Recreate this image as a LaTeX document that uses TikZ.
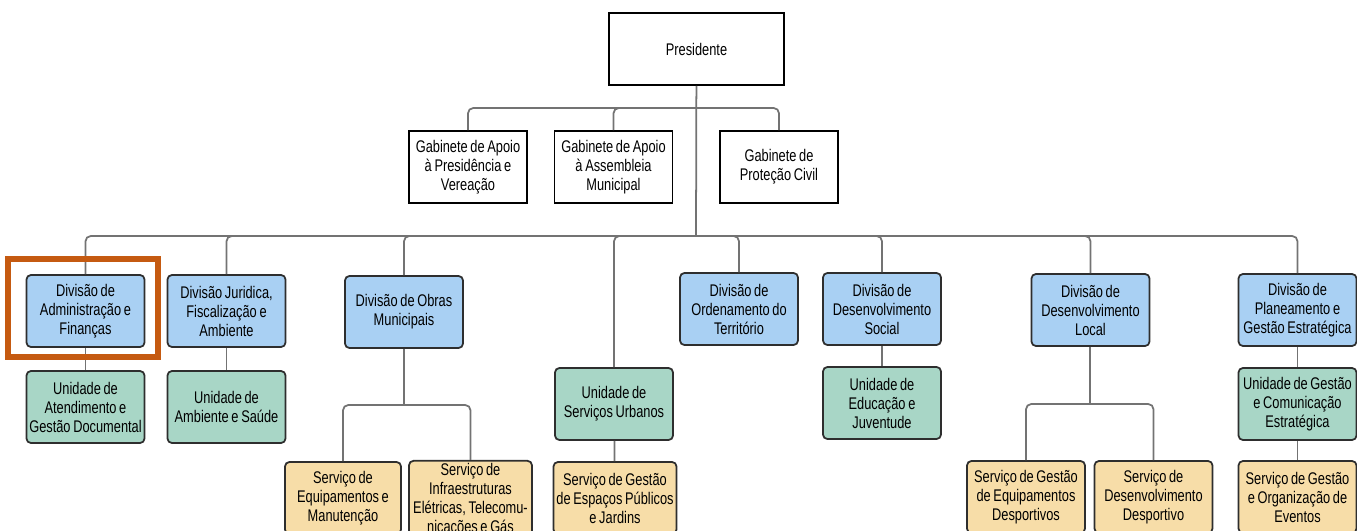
\documentclass[tikz,border=0pt]{standalone}
\usepackage{fontspec}
\newfontfamily\orgfont{Liberation Sans}[FakeStretch=0.76,WordSpace=0.75]
\definecolor{divblue}{HTML}{A9D0F3}
\definecolor{unigreen}{HTML}{A8D6C6}
\definecolor{servyellow}{HTML}{F7DDA8}
\definecolor{hilite}{HTML}{C55A11}
\definecolor{linegray}{HTML}{737373}
\definecolor{boxedge}{HTML}{2E2E2E}

\begin{document}
\begin{tikzpicture}[x=0.02cm,y=-0.02cm,
  box/.style={rectangle,draw=boxedge,line width=1pt,rounded corners=2.5pt,
    inner sep=0.05cm,minimum width=2.36cm,minimum height=1.44cm,
    align=center,font=\orgfont\fontsize{9.6}{10.8}\selectfont},
  top/.style={box,fill=white,draw=black,sharp corners},
  div/.style={box,fill=divblue},
  uni/.style={box,fill=unigreen},
  serv/.style={box,fill=servyellow},
  link/.style={draw=linegray,line width=1pt,rounded corners=3pt}]
\useasboundingbox (0,0) rectangle (1357,531);
\clip (0,0) rectangle (1357,531);
\coordinate (busTop) at (696,108);
\coordinate (busMain) at (696,236);
\coordinate (obrasBus) at (404,405);
\coordinate (localBus) at (1090,404);

% top of the chart
\path
(696.5,49) node [top,minimum width=3.5cm] (pres) {Presidente}
(468,167) node [top] (gab1) {Gabinete de Apoio\\à Presidência e\\Vereação}
(613.5,167) node [top] (gab2) {Gabinete de Apoio\\à Assembleia\\Municipal}
(779,167) node [top] (gab3) {Gabinete de\\Proteção Civil}
;

% divisions
\path
(85.5,311) node [div] (d1) {Divisão de\\Administração e\\Finanças}
(226.5,311) node [div] (d2) {Divisão Juridica,\\Fiscalização e\\Ambiente}
(404,312) node [div] (d3) {Divisão de Obras\\Municipais}
(739,309) node [div] (d4) {Divisão de\\Ordenamento do\\Território}
(882,309) node [div] (d5) {Divisão de\\Desenvolvimento\\Social}
(1090.5,310) node [div] (d6) {Divisão de\\Desenvolvimento\\Local}
(1297.5,310) node [div] (d7) {Divisão de\\Planeamento e\\Gestão Estratégica}
;

% units
\path
(85.5,407) node [uni] (u1) {Unidade de\\Atendimento e\\Gestão Documental}
(226.5,407) node [uni] (u2) {Unidade de\\Ambiente e Saúde}
(614,404) node [uni] (uSU) {Unidade de\\Serviços Urbanos}
(882,403) node [uni] (u5) {Unidade de\\Educação e\\Juventude}
(1297.5,404) node [uni] (u7) {Unidade de Gestão\\e Comunicação\\Estratégica}
;

% services
\path
(343,498) node [serv,minimum width=2.32cm] (s3a) {Serviço de\\Equipamentos e\\Manutenção}
(470.5,498) node [serv,minimum width=2.46cm] (s3b) {Serviço de\\Infraestruturas\\Elétricas, Telecomu-\\nicacões e Gás}
(615,498) node [serv,minimum width=2.46cm] (sSU) {Serviço de Gestão\\de Espaços Públicos\\e Jardins}
(1026,497) node [serv] (s6a) {Serviço de Gestão\\de Equipamentos\\Desportivos}
(1153.5,497) node [serv] (s6b) {Serviço de\\Desenvolvimento\\Desportivo}
(1297.5,497) node [serv] (s7) {Serviço de Gestão\\e Organização de\\Eventos}
;

\draw[link] (pres) -- (busMain);
\foreach \g in {gab1,gab2,gab3}
  \draw[link] (busTop) -| (\g.north);
\foreach \d in {d1,d2,d3,d4,d5,d6,d7,uSU}
  \draw[link] (busMain) -| (\d.north);

\draw[link] (d1) -- (u1);
\draw[link] (d2) -- (u2);
\draw[link] (d5) -- (u5);
\draw[link] (d7) -- (u7);
\draw[link] (u7) -- (s7);
\draw[link] (uSU) -- (sSU);

\draw[link] (d3) -- (obrasBus);
\draw[link] (obrasBus) -| (s3a.north);
\draw[link] (obrasBus) -| (s3b.north);
\draw[link] (d6.south -| localBus) -- (localBus);
\draw[link] (localBus) -| (s6a.north);
\draw[link] (localBus) -| (s6b.north);

% highlight
\draw[hilite,line width=3.4pt] (8,259) rectangle (158,357);
\end{tikzpicture}
\end{document}
